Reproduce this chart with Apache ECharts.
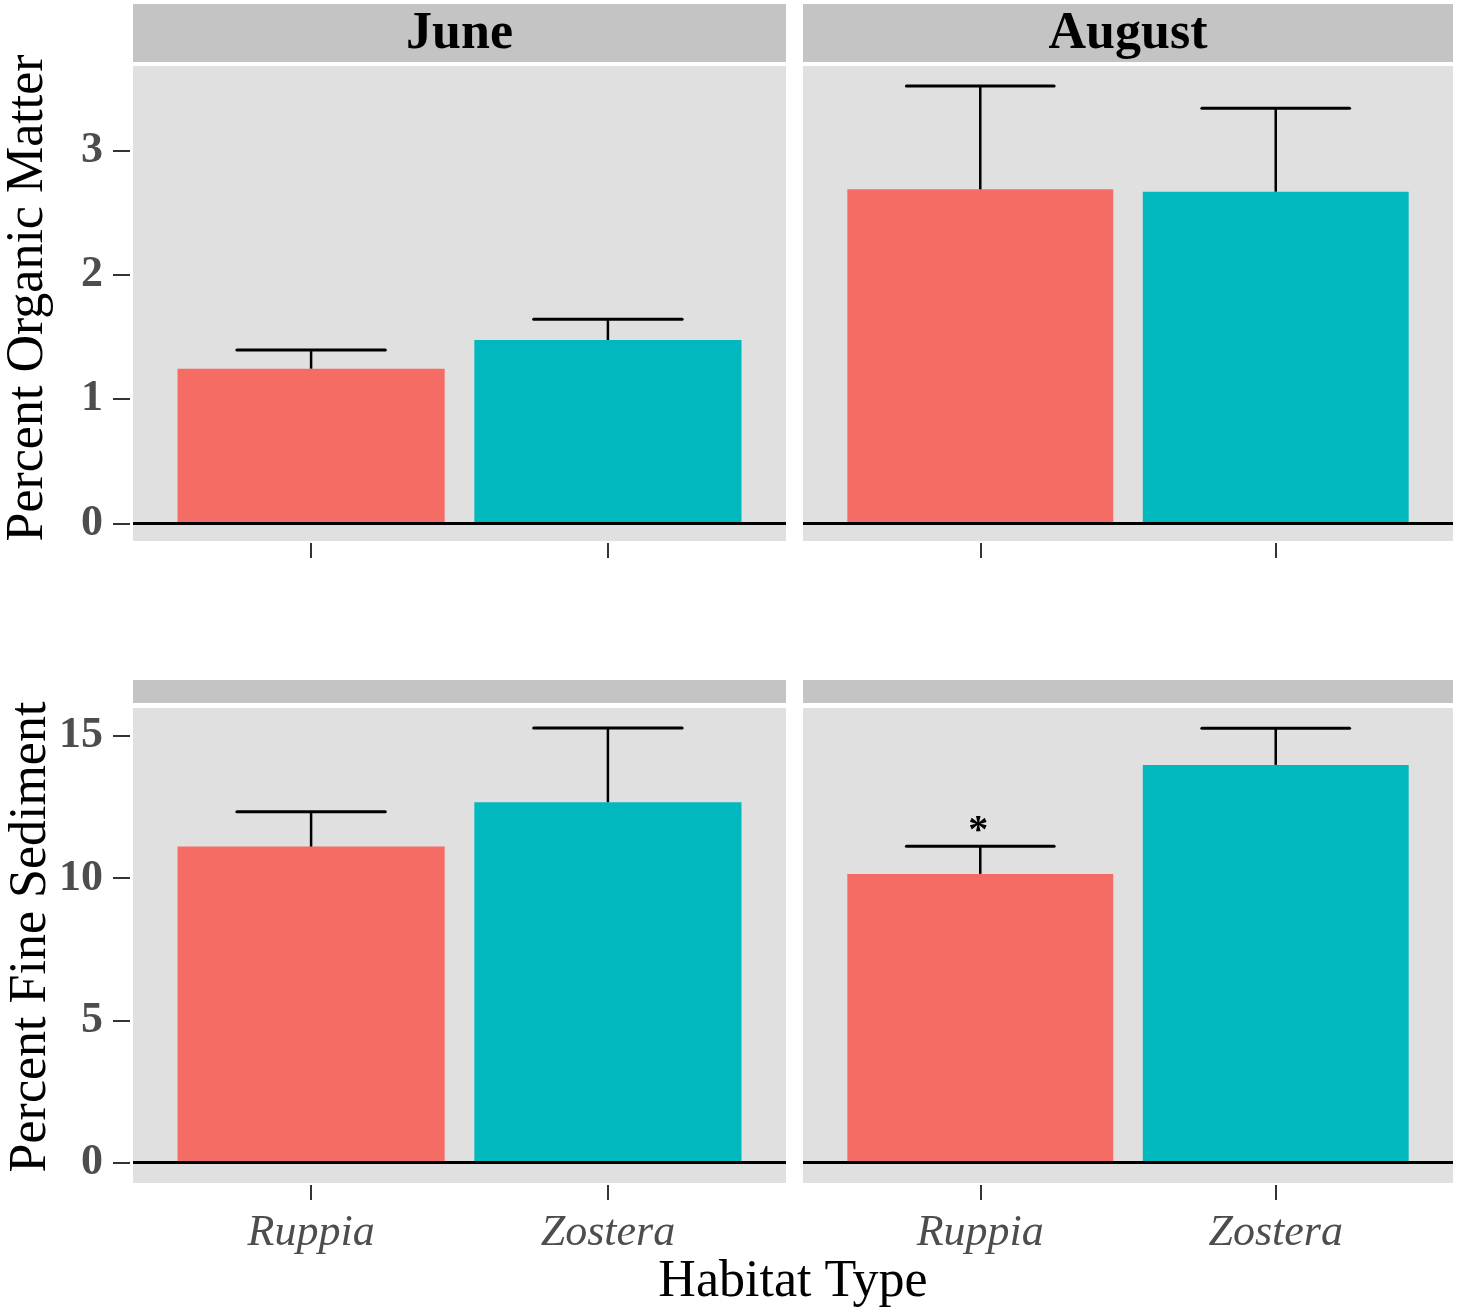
<!DOCTYPE html>
<html>
<head>
<meta charset="utf-8">
<title>Organic matter and fine sediment</title>
<script src="https://cdn.jsdelivr.net/npm/echarts@6/dist/echarts.min.js"></script>
<style>
  html, body { margin: 0; padding: 0; background: #fff; }
  #chart { width: 1459px; height: 1315px; }
</style>
</head>
<body>
<div id="chart"></div>
<script>
// data
var habitats = ['Ruppia', 'Zostera'];
var months = ['June', 'August'];

var organicJune = [1.245, 1.476];
var organicJuneSE = [0.150, 0.166];
var organicAugust = [2.689, 2.670];
var organicAugustSE = [0.832, 0.671];

var sedimentJune = [11.11, 12.67];
var sedimentJuneSE = [1.22, 2.61];
var sedimentAugust = [10.15, 13.98];
var sedimentAugustSE = [0.97, 1.29];
var sedimentAugustSig = ['*', ''];

var organicTicks = [0, 1, 2, 3];
var sedimentTicks = [0, 5, 10, 15];

var barColors = ['#F56C64', '#00B8BD'];
var serif = 'Liberation Serif';

// panel boxes (px)
var panels = [
    { left: 133, top: 66, width: 653, height: 475 },
    { left: 803, top: 66, width: 650, height: 475 },
    { left: 133, top: 708, width: 653, height: 475 },
    { left: 803, top: 708, width: 650, height: 475 }
];

function rows(means, ses) {
    var out = [];
    for (var i = 0; i < means.length; i++) {
        out.push([i + 1, means[i], ses[i]]);
    }
    return out;
}

var panelData = [
    rows(organicJune, organicJuneSE),
    rows(organicAugust, organicAugustSE),
    rows(sedimentJune, sedimentJuneSE),
    rows(sedimentAugust, sedimentAugustSE)
];
var panelSig = [null, null, null, sedimentAugustSig];

function renderBar(params, api) {
    var x = api.value(0), m = api.value(1), se = api.value(2);
    var p0 = api.coord([x - 0.45, m]);
    var p1 = api.coord([x + 0.45, 0]);
    var top = api.coord([x, m + se]);
    var capL = api.coord([x - 0.25, m + se]);
    var capR = api.coord([x + 0.25, m + se]);
    var kids = [
        {
            type: 'rect',
            shape: { x: p0[0], y: p0[1], width: p1[0] - p0[0], height: p1[1] - p0[1] },
            style: { fill: barColors[params.dataIndex] }
        },
        {
            type: 'line',
            shape: { x1: top[0], y1: p0[1], x2: top[0], y2: top[1] },
            style: { stroke: '#000', lineWidth: 2.5 }
        },
        {
            type: 'line',
            shape: { x1: capL[0], y1: capL[1], x2: capR[0], y2: capR[1] },
            style: { stroke: '#000', lineWidth: 3, lineCap: 'round' }
        }
    ];
    var sigs = panelSig[params.seriesIndex];
    var sig = sigs ? sigs[params.dataIndex] : '';
    if (sig) {
        kids.push({
            type: 'text',
            style: {
                text: sig, x: top[0] - 2, y: top[1] - 15,
                fill: '#000', font: 'bold 40px "' + serif + '"',
                align: 'center', verticalAlign: 'middle'
            }
        });
    }
    return { type: 'group', children: kids };
}

var grids = [], xAxes = [], yAxes = [], series = [];
for (var k = 0; k < 4; k++) {
    var p = panels[k];
    var isLeft = (k % 2 === 0);
    var isBottom = (k >= 2);
    grids.push({
        left: p.left, top: p.top, width: p.width, height: p.height,
        show: true, backgroundColor: '#E0E0E0', borderWidth: 0
    });
    xAxes.push({
        type: 'value', gridIndex: k, min: 0.4, max: 2.6, offset: 2,
        position: 'bottom',
        axisLine: { show: false, onZero: false },
        splitLine: { show: false },
        axisTick: { show: true, length: 15, customValues: [1, 2],
            lineStyle: { color: '#333', width: 2 } },
        axisLabel: {
            show: isBottom, customValues: [1, 2], margin: 26,
            formatter: function (v) { return habitats[Math.round(v) - 1]; },
            fontFamily: serif, fontStyle: 'italic', fontSize: 44, color: '#4D4D4D'
        }
    });
    var ticks = isBottom ? sedimentTicks : organicTicks;
    yAxes.push({
        type: 'value', gridIndex: k,
        min: isBottom ? -0.714 : -0.1425,
        max: isBottom ? 15.98 : 3.682,
        offset: 3,
        axisLine: { show: false, onZero: false },
        splitLine: { show: false },
        axisTick: { show: isLeft, length: 17, customValues: ticks,
            lineStyle: { color: '#333', width: 2 } },
        axisLabel: {
            show: isLeft, customValues: ticks, margin: 27,
            fontFamily: serif, fontWeight: 'bold', fontSize: 44, color: '#4D4D4D'
        }
    });
    series.push({
        type: 'custom', xAxisIndex: k, yAxisIndex: k,
        renderItem: renderBar,
        data: panelData[k],
        silent: true,
        markLine: {
            silent: true, symbol: ['none', 'none'],
            label: { show: false },
            lineStyle: { color: '#000', width: 3, type: 'solid' },
            data: [{ yAxis: 0 }],
            animation: false
        }
    });
}

// facet strips and titles
var graphics = [];
for (var j = 0; j < 2; j++) {
    var tp = panels[j], bp = panels[j + 2];
    graphics.push({ type: 'rect', shape: { x: tp.left, y: 4, width: tp.width, height: 58 },
        style: { fill: '#C4C4C4' } });
    graphics.push({ type: 'rect', shape: { x: bp.left, y: 680, width: bp.width, height: 23 },
        style: { fill: '#C4C4C4' } });
    graphics.push({ type: 'text', x: tp.left + tp.width / 2, y: 35,
        style: { text: months[j], font: 'bold 52px "' + serif + '"', fill: '#000',
            align: 'center', verticalAlign: 'middle' } });
}
graphics.push({ type: 'text', x: 28, y: 298, rotation: Math.PI / 2,
    style: { text: 'Percent Organic Matter', font: '52px "' + serif + '"', fill: '#000',
        align: 'center', verticalAlign: 'middle' } });
graphics.push({ type: 'text', x: 31, y: 937, rotation: Math.PI / 2,
    style: { text: 'Percent Fine Sediment', font: '52px "' + serif + '"', fill: '#000',
        align: 'center', verticalAlign: 'middle' } });
graphics.push({ type: 'text', x: 793, y: 1282,
    style: { text: 'Habitat Type', font: '52px "' + serif + '"', fill: '#000',
        align: 'center', verticalAlign: 'middle' } });

var myChart = echarts.init(document.getElementById('chart'));
myChart.setOption({
    backgroundColor: '#fff',
    animation: false,
    grid: grids,
    xAxis: xAxes,
    yAxis: yAxes,
    series: series,
    graphic: graphics
});
</script>
</body>
</html>
